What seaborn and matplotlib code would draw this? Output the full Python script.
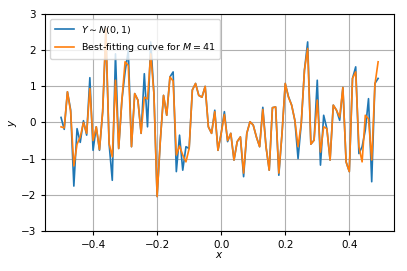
import numpy as np
import pandas as pd
import matplotlib
matplotlib.use("Agg")
import matplotlib.pyplot as plt
import seaborn as sns

x_start = -0.50
x_step = 0.01

y_data = [0.14, -0.19, 0.85, 0.35, -1.76, -0.17, -0.55, 0.05, -0.35, 1.24,
          -0.77, -0.12, -0.77, 0.30, 2.45, -0.58, -1.60, 1.90, -0.72, 0.62,
          1.40, 2.00, -0.67, 0.80, 0.62, -0.30, 1.35, -0.12, 2.23, 0.80,
          -2.05, -0.50, 0.75, 0.20, 1.26, 1.40, -1.36, -0.35, -1.32, -0.67,
          -0.72, 0.90, 1.08, 0.75, 0.70, 1.00, -0.12, -0.30, 0.34, -0.77,
          -0.30, 0.30, -0.53, -0.30, -1.04, -0.53, -0.40, -1.50, -0.30, 0.02,
          -0.07, -0.40, -0.67, 0.42, -0.67, -1.32, 0.41, 0.43, -1.46, -0.30,
          1.08, 0.72, 0.48, 0.06, -1.00, -0.03, 1.45, 2.23, -0.60, -0.49,
          1.17, -1.18, 0.20, -0.17, -1.04, 0.48, 0.34, 0.06, 0.97, -1.09,
          -1.36, 1.22, 1.54, -0.86, -0.67, -0.21, 0.66, -1.64, 1.08, 1.22]

y_fit = [-0.12, -0.15, 0.85, 0.30, -1.20, -0.60, -0.40, 0.00, -0.30, 0.94,
         -0.50, -0.12, -0.75, 0.30, 2.60, -0.58, -0.95, 1.17, -0.72, 0.62,
         1.68, 1.58, -0.67, 0.80, 0.62, -0.30, 0.70, 0.65, 1.90, 0.80,
         -2.05, -0.50, 0.75, 0.20, 1.26, 1.15, -0.90, -0.65, -0.90, -1.09,
         -0.72, 0.90, 1.08, 0.75, 0.70, 1.00, -0.12, -0.30, 0.30, -0.77,
         -0.30, 0.22, -0.50, -0.30, -1.04, -0.53, -0.40, -1.40, -0.30, 0.02,
         -0.07, -0.40, -0.67, 0.36, -0.67, -1.32, 0.41, 0.43, -1.40, -0.30,
         1.08, 0.70, 0.48, 0.06, -0.67, -0.03, 1.45, 2.05, -0.60, -0.49,
         0.62, -0.82, -0.12, -0.17, -1.04, 0.48, 0.34, 0.15, 0.97, -1.09,
         -1.36, 1.22, 1.40, -0.67, -1.09, 0.20, 0.10, -1.04, 1.05, 1.68]

x_vals = x_start + x_step * np.arange(len(y_data))

label_data = r"$Y \sim N(0,1)$"
label_fit = r"Best-fitting curve for $M = 41$"
y_ticks = [-3, -2, -1, 0, 1, 2, 3]
x_ticks = [-0.4, -0.2, 0.0, 0.2, 0.4]

df = pd.DataFrame({"x": x_vals, "data": y_data, "fit": y_fit})

fig = plt.figure(figsize=(4.07, 2.71), dpi=100)
ax = fig.add_axes([0.111, 0.148, 0.857, 0.8])

sns.lineplot(data=df, x="x", y="data", ax=ax, color="#1f77b4", lw=1.2,
             label=label_data, sort=False, estimator=None)
sns.lineplot(data=df, x="x", y="fit", ax=ax, color="#ff7f0e", lw=1.2,
             label=label_fit, sort=False, estimator=None)

ax.set_ylim(-3, 3)
ax.set_yticks(y_ticks)
ax.set_xticks(x_ticks)
ax.grid(True, color="#b0b0b0", lw=0.8)
ax.tick_params(labelsize=7.5, length=3)
ax.set_xlabel("$x$", fontsize=7.5, labelpad=0)
ax.set_ylabel("$y$", fontsize=7.5, labelpad=1)
ax.legend(loc="upper left", fontsize=6.8, handlelength=2.0, borderpad=0.5,
          labelspacing=0.6, framealpha=0.8, edgecolor="#cccccc")

fig.savefig("out.png", dpi=100)
